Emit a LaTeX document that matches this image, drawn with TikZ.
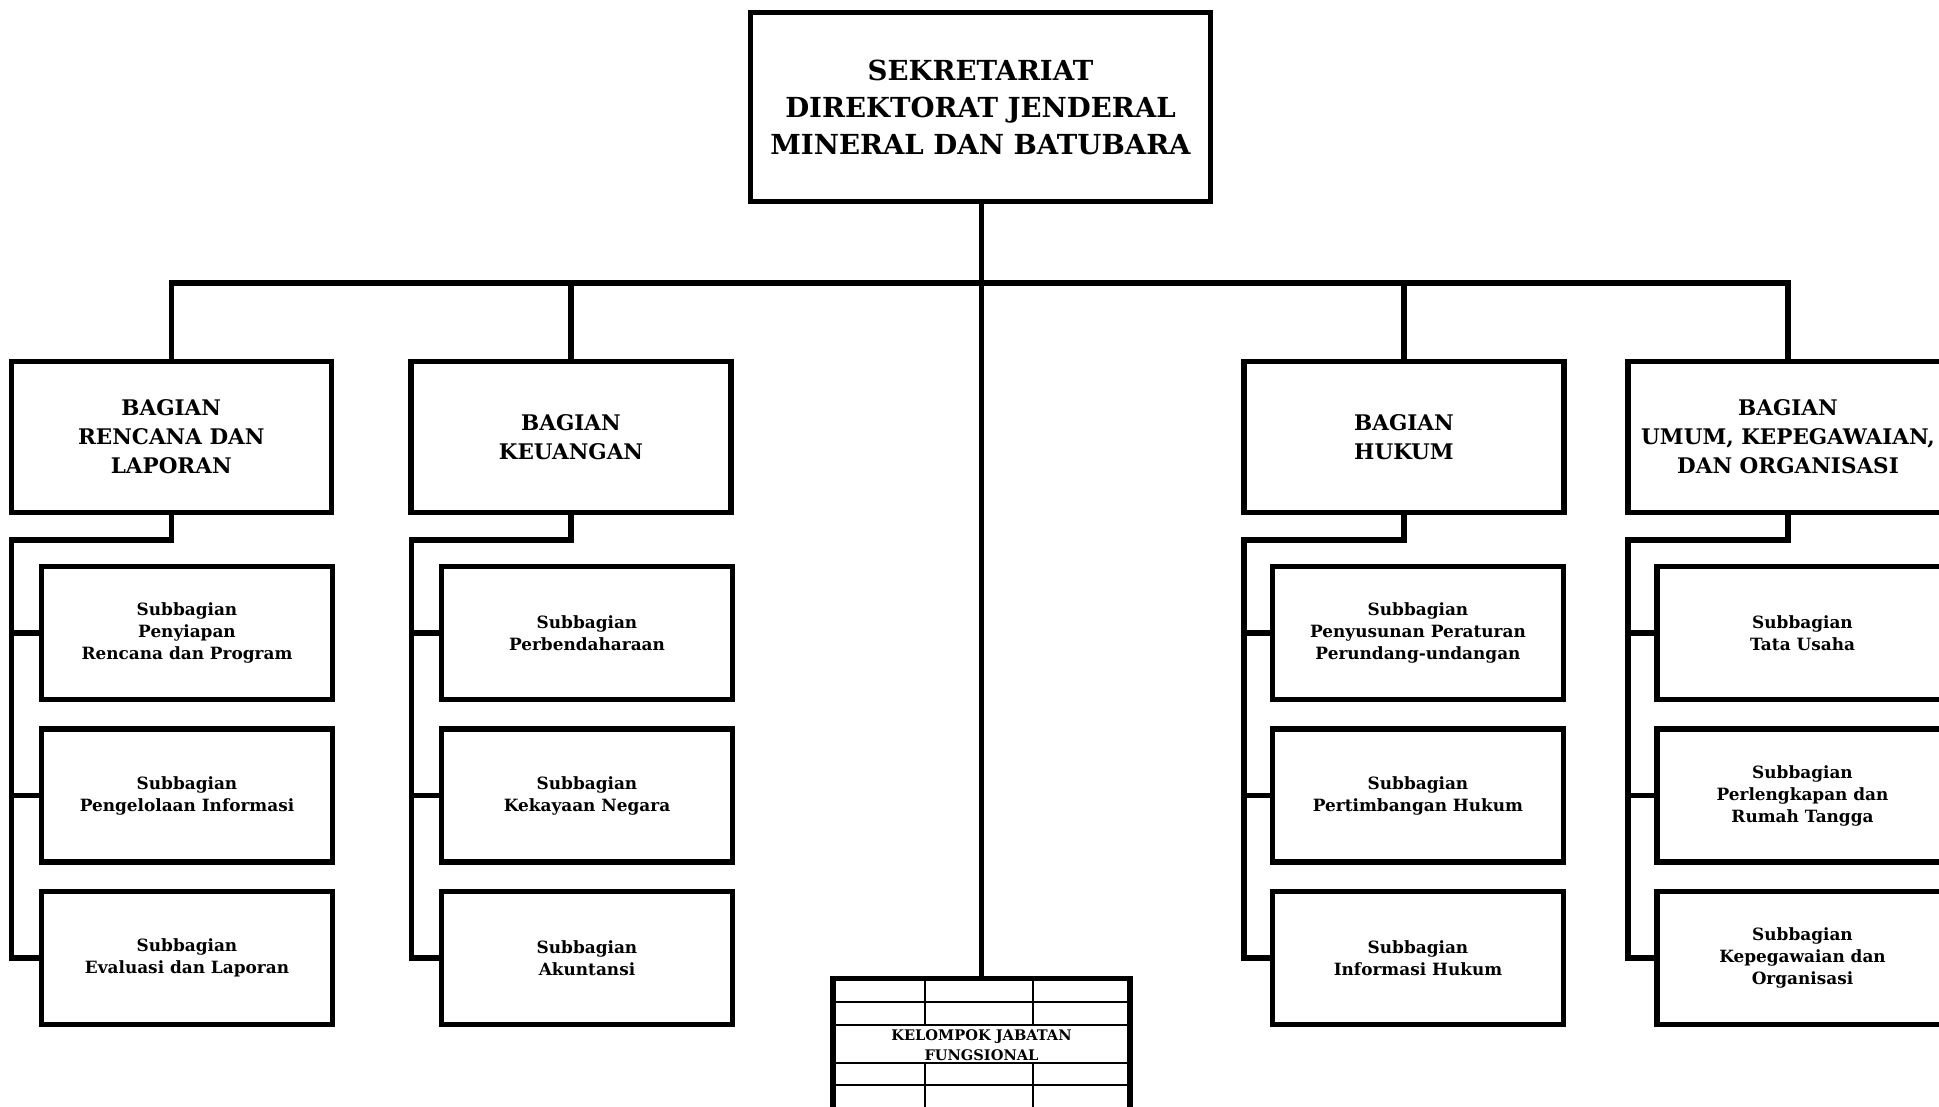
\documentclass[tikz,border=0pt]{standalone}
\usepackage{fontspec}
\setmainfont{DejaVu Serif}
\begin{document}
\begin{tikzpicture}[x=1pt,y=-1pt,
  box/.style={draw, rectangle, line width=5.3pt, inner sep=0pt, align=center},
  topbox/.style={box, minimum width=460pt, minimum height=189pt, font=\fontsize{27.6}{37}\selectfont\bfseries},
  bagbox/.style={box, minimum width=320pt, minimum height=151pt, font=\fontsize{21.5}{29}\selectfont\bfseries},
  subbox/.style={box, minimum width=291pt, minimum height=133pt, font=\fontsize{16.9}{22}\selectfont\bfseries},
  kelbox/.style={box, line width=5.8pt, minimum width=296.5pt, minimum height=133pt, font=\fontsize{14.6}{19.5}\selectfont\bfseries},
  conn/.style={line width=5.3pt},
  grid/.style={line width=2.8pt}]
\useasboundingbox (0,0) rectangle (1939,1107);
\clip (0,0) rectangle (1939,1107);

% top
\node[topbox] (top) at (980.5,107) {SEKRETARIAT\\DIREKTORAT JENDERAL\\MINERAL DAN BATUBARA};

% bagian
\node[bagbox] (b1) at (171.25,437) {BAGIAN\\RENCANA DAN\\LAPORAN};
\node[bagbox] (b2) at (571,437) {BAGIAN\\KEUANGAN};
\node[bagbox] (b3) at (1404,437) {BAGIAN\\HUKUM};
\node[bagbox] (b4) at (1788,437) {BAGIAN\\UMUM, KEPEGAWAIAN,\\DAN ORGANISASI};

% subbagian
\node[subbox] (s11) at (187,633) {Subbagian\\Penyiapan\\Rencana dan Program};
\node[subbox] (s12) at (187,795.5) {Subbagian\\Pengelolaan Informasi};
\node[subbox] (s13) at (187,958) {Subbagian\\Evaluasi dan Laporan};
\node[subbox] (s21) at (587,633) {Subbagian\\Perbendaharaan};
\node[subbox] (s22) at (587,795.5) {Subbagian\\Kekayaan Negara};
\node[subbox] (s23) at (587,958) {Subbagian\\Akuntansi};
\node[subbox] (s31) at (1418,633) {Subbagian\\Penyusunan Peraturan\\Perundang-undangan};
\node[subbox] (s32) at (1418,795.5) {Subbagian\\Pertimbangan Hukum};
\node[subbox] (s33) at (1418,958) {Subbagian\\Informasi Hukum};
\node[subbox] (s41) at (1802.5,633) {Subbagian\\Tata Usaha};
\node[subbox] (s42) at (1802.5,795.5) {Subbagian\\Perlengkapan dan\\Rumah Tangga};
\node[subbox] (s43) at (1802.5,958) {Subbagian\\Kepegawaian dan\\Organisasi};

% kelompok jabatan fungsional
\node[kelbox] (kel) at (981.5,1045) {KELOMPOK JABATAN\\FUNGSIONAL};
\draw[grid] (834,1002) -- (1130,1002);
\draw[grid] (834,1025) -- (1130,1025);
\draw[grid] (834,1063) -- (1130,1063);
\draw[grid] (834,1085) -- (1130,1085);
\draw[grid] (925,979) -- (925,1025);
\draw[grid] (1033,979) -- (1033,1025);
\draw[grid] (925,1063) -- (925,1112);
\draw[grid] (1033,1063) -- (1033,1112);

% connectors
\coordinate (bus) at (981.5,283);
\draw[conn] (top.south -| bus) -- (kel.north -| bus);
\draw[conn] (b1.north) |- (bus) -| (b4.north);
\draw[conn] (b2.north) -- (b2.north |- bus);
\draw[conn] (b3.north) -- (b3.north |- bus);

\coordinate (k1) at (11.5,540);
\coordinate (k2) at (411.5,540);
\coordinate (k3) at (1244,540);
\coordinate (k4) at (1628,540);
\foreach \c in {1,2,3,4}{
  \draw[conn] (b\c.south) |- (k\c) |- (s\c3.west);
  \draw[conn] (s\c1.west) -- (s\c1.west -| k\c);
  \draw[conn] (s\c2.west) -- (s\c2.west -| k\c);
}
\end{tikzpicture}
\end{document}
